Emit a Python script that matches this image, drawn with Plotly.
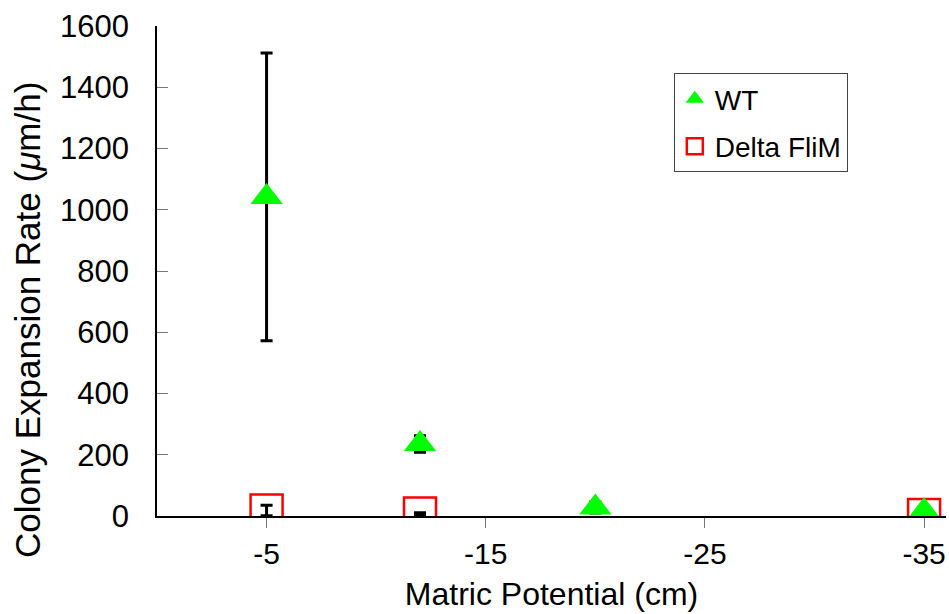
import plotly.graph_objects as go

# Data
wt_x = [-5, -12, -20, -35]
wt_y = [1042, 235, 28, 16]
wt_err = [470, 27, 18, 0]

dm_x = [-5, -12, -35]
dm_y = [18, 8, 3]
dm_err = [17, 3, 0]

x_ticks = [-5, -15, -25, -35]
y_ticks = [0, 200, 400, 600, 800, 1000, 1200, 1400, 1600]

FONT = "Liberation Sans, Arial, Helvetica, sans-serif"

fig = go.Figure()

fig.add_trace(go.Scatter(
    x=dm_x, y=dm_y, mode="markers", name="Delta FliM",
    legendrank=2, legendgroup="b",
    marker=dict(symbol="square-open", size=32, color="#ff0000",
                line=dict(color="#ff0000", width=2.5)),
    error_y=dict(type="data", array=dm_err, visible=True,
                 color="black", thickness=3, width=6),
))

fig.add_trace(go.Scatter(
    x=wt_x, y=wt_y, mode="markers", name="WT",
    legendrank=1, legendgroup="a",
    marker=dict(symbol="triangle-up", size=28, color="#00ff00",
                line=dict(width=0)),
    error_y=dict(type="data", array=wt_err, visible=True,
                 color="black", thickness=3, width=6),
))

fig.update_layout(
    width=949, height=614,
    margin=dict(l=157, r=3, t=26, b=98),
    paper_bgcolor="white", plot_bgcolor="white",
    font=dict(family=FONT, color="black", size=30),
    showlegend=True,
    legend=dict(
        x=0.655, y=0.904, xanchor="left", yanchor="top",
        bgcolor="white", bordercolor="#444", borderwidth=1,
        font=dict(size=28, family=FONT), tracegroupgap=8,
    ),
    xaxis=dict(
        range=[0, -36], tickvals=x_ticks, ticktext=[str(v) for v in x_ticks],
        ticks="outside", ticklen=10, tickcolor="#777", tickwidth=1,
        showline=True, linecolor="black", linewidth=1.5,
        showgrid=False, zeroline=False,
        tickfont=dict(size=30, family=FONT),
        title=dict(text="Matric Potential (cm)", font=dict(size=32, family=FONT), standoff=14),
    ),
    yaxis=dict(
        range=[0, 1600], tickvals=y_ticks,
        ticks="inside", ticklen=11, tickcolor="#777", tickwidth=1,
        showline=True, linecolor="black", linewidth=1.5,
        showgrid=False, zeroline=False,
        tickfont=dict(size=31, family=FONT),
        ticklabelstandoff=20,
    ),
    annotations=[dict(
        text="Colony Expansion Rate (<i>μ</i>m/h)", textangle=-90,
        xref="paper", yref="paper", x=0, y=0.40, xshift=-130,
        xanchor="center", yanchor="middle", showarrow=False,
        font=dict(size=35, family=FONT),
    )],
)

fig.write_html("out.html", config={"displayModeBar": False},
               post_script="document.body.style.margin='0px';")
